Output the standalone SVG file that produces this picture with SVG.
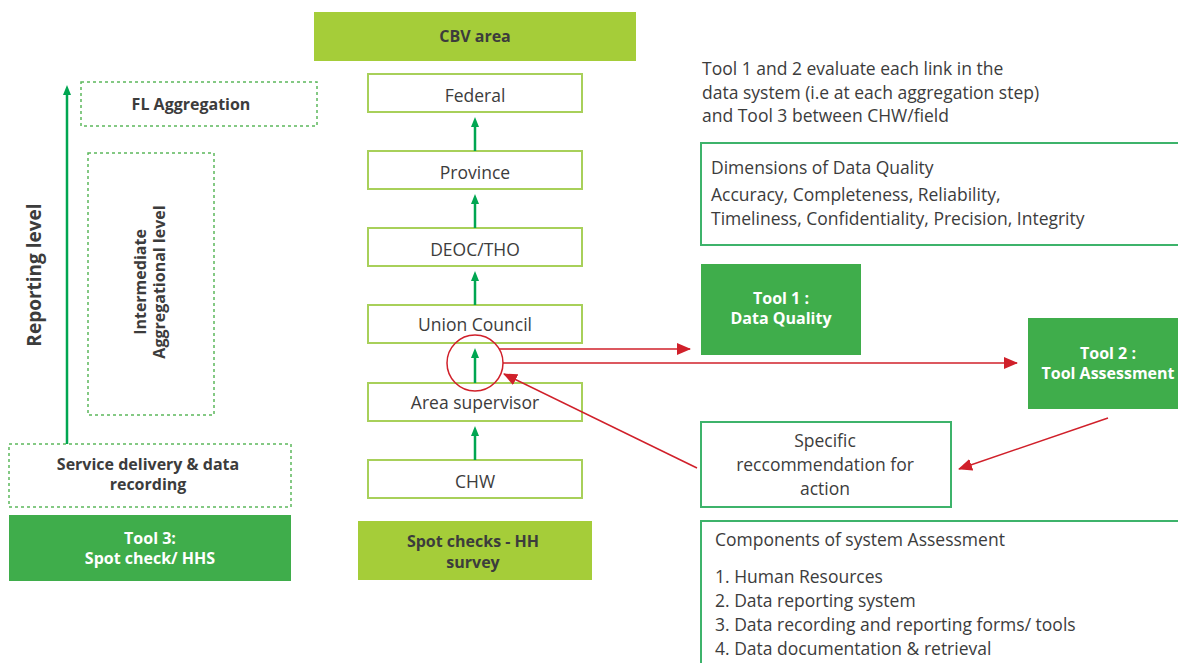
<svg xmlns="http://www.w3.org/2000/svg" width="1178" height="663" viewBox="0 0 1178 663">
<defs>
<style>
text{font-family:"Open Sans","Noto Sans",sans-serif;fill:#3c3c3c;font-size:17.5px}
.b{font-weight:bold;font-size:16px}
.w{fill:#ffffff;font-weight:bold;font-size:16px}
.c{text-anchor:middle}
.dash{fill:none;stroke:#5cb85c;stroke-width:1.5;stroke-dasharray:3 3}
.lvl{fill:#ffffff;stroke:#a8d05a;stroke-width:2}
.lime{fill:#a5cd39}
.dk{fill:#3fad4b}
.out{fill:#ffffff;stroke:#3db36b;stroke-width:2}
.g{stroke:#00a651;stroke-width:2.5;fill:none}
.r{stroke:#d0202a;stroke-width:1.5;fill:none}
</style>
<marker id="ga" markerWidth="10" markerHeight="10" refX="5" refY="5" orient="auto" markerUnits="userSpaceOnUse"><path d="M0,1 L10,5 L0,9 z" fill="#00a651"/></marker>
<marker id="ra" markerWidth="14" markerHeight="12" refX="13" refY="6" orient="auto" markerUnits="userSpaceOnUse"><path d="M0,0 L14,6 L0,12 z" fill="#d0202a"/></marker>
</defs>

<g id="reporting-level">
<text class="b c" style="font-size:19px" transform="translate(41,275) rotate(-90)">Reporting level</text>
</g>
<g id="fl-aggregation">
<rect class="dash" x="81" y="82" width="236" height="44"/>
<text class="b c" x="191" y="110">FL Aggregation</text>
</g>
<g id="intermediate">
<rect class="dash" x="88" y="153" width="126" height="262"/>
<text class="b c" transform="translate(146,282) rotate(-90)">Intermediate</text>
<text class="b c" transform="translate(165,282) rotate(-90)">Aggregational level</text>
</g>
<g id="service-delivery">
<rect class="dash" x="9" y="444" width="282" height="63"/>
<text class="b c" x="148" y="470">Service delivery &amp; data</text>
<text class="b c" x="148" y="490">recording</text>
</g>
<g id="tool3">
<rect class="dk" x="9" y="515" width="282" height="66"/>
<text class="w c" x="150" y="544">Tool 3:</text>
<text class="w c" x="150" y="564">Spot check/ HHS</text>
</g>

<g id="cbv-area">
<rect class="lime" x="314" y="12" width="322" height="49"/>
<text class="b c" x="475" y="42">CBV area</text>
</g>
<g id="federal"><rect class="lvl" x="368" y="74" width="214" height="38"/><text class="c" x="475" y="102">Federal</text></g>
<g id="province"><rect class="lvl" x="368" y="151" width="214" height="38"/><text class="c" x="475" y="179">Province</text></g>
<g id="deoc"><rect class="lvl" x="368" y="228" width="214" height="38"/><text class="c" x="475" y="256">DEOC/THO</text></g>
<g id="union-council"><rect class="lvl" x="368" y="305" width="214" height="38"/><text class="c" x="475" y="331">Union Council</text></g>
<g id="area-supervisor"><rect class="lvl" x="368" y="383" width="214" height="38"/><text class="c" x="475" y="409">Area supervisor</text></g>
<g id="chw"><rect class="lvl" x="368" y="460" width="214" height="38"/><text class="c" x="475" y="488">CHW</text></g>
<g id="spot-checks">
<rect class="lime" x="358" y="521" width="234" height="59"/>
<text class="b c" x="473" y="547">Spot checks - HH</text>
<text class="b c" x="473" y="568">survey</text>
</g>

<g id="intro-text">
<text x="702" y="75">Tool 1 and 2 evaluate each link in the</text>
<text x="702" y="99">data system (i.e at each aggregation step)</text>
<text x="702" y="122">and Tool 3 between CHW/field</text>
</g>
<g id="dimensions">
<rect class="out" x="701" y="143" width="490" height="102"/>
<text x="711" y="174">Dimensions of Data Quality</text>
<text x="711" y="201">Accuracy, Completeness, Reliability,</text>
<text x="711" y="225">Timeliness, Confidentiality, Precision, Integrity</text>
</g>
<g id="tool1">
<rect class="dk" x="701" y="264" width="160" height="91"/>
<text class="w c" x="781" y="304">Tool 1 :</text>
<text class="w c" x="781" y="324">Data Quality</text>
</g>
<g id="tool2">
<rect class="dk" x="1028" y="318" width="155" height="91"/>
<text class="w c" x="1108" y="359">Tool 2 :</text>
<text class="w c" x="1108" y="379">Tool Assessment</text>
</g>
<g id="recommendation">
<rect class="out" x="701" y="422" width="250" height="85"/>
<text class="c" x="825" y="447">Specific</text>
<text class="c" x="825" y="471">reccommendation for</text>
<text class="c" x="825" y="495">action</text>
</g>
<g id="components">
<rect class="out" x="701" y="521" width="490" height="150"/>
<text x="715" y="546">Components of system Assessment</text>
<text x="715" y="583">1. Human Resources</text>
<text x="715" y="607">2. Data reporting system</text>
<text x="715" y="631">3. Data recording and reporting forms/ tools</text>
<text x="715" y="655">4. Data documentation &amp; retrieval</text>
</g>

<g id="connectors">
<line class="g" x1="67" y1="444" x2="67" y2="90" marker-end="url(#ga)"/>
<line class="g" x1="475" y1="151" x2="475" y2="122" marker-end="url(#ga)"/>
<line class="g" x1="475" y1="228" x2="475" y2="199" marker-end="url(#ga)"/>
<line class="g" x1="475" y1="305" x2="475" y2="276" marker-end="url(#ga)"/>
<line class="g" x1="475" y1="383" x2="475" y2="353" marker-end="url(#ga)"/>
<line class="g" x1="475" y1="460" x2="475" y2="431" marker-end="url(#ga)"/>
<circle class="r" cx="475" cy="363" r="28"/>
<line class="r" x1="499" y1="349" x2="690" y2="349" marker-end="url(#ra)"/>
<line class="r" x1="503" y1="363" x2="1017" y2="363" marker-end="url(#ra)"/>
<line class="r" x1="697" y1="468" x2="504" y2="374" marker-end="url(#ra)"/>
<line class="r" x1="1108" y1="418" x2="959" y2="469" marker-end="url(#ra)"/>
</g>
</svg>
